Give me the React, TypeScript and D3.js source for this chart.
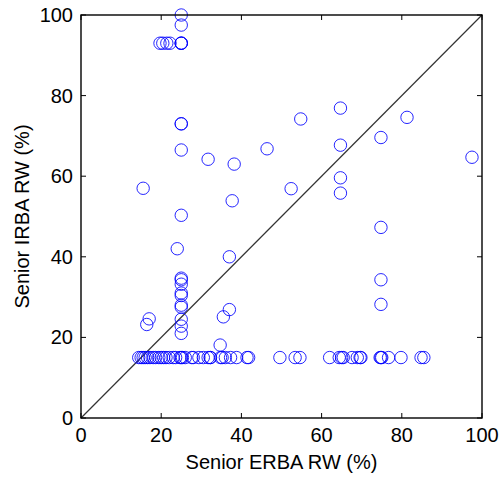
import React from "react";
import * as d3 from "d3";

// Scatter data: Senior ERBA RW (%) vs Senior IRBA RW (%)
const erba: number[] = [
  25, 25, 25, 25, 25, 19.7, 20.4, 21.4, 22.2,
  25, 25, 25, 25, 15.5, 24, 31.7, 38.2, 46.4, 54.8, 37.7, 52.4,
  64.7, 64.7, 64.7, 64.7, 74.8, 81.3, 97.5, 74.8, 74.8, 74.8, 37,
  25, 25, 25, 25, 25, 25, 25, 25, 25, 25,
  17, 16.4, 35.5, 37, 34.7,
  14.4, 15, 15.5, 16, 16.6, 17.2, 18, 18.6, 19.4, 20, 20.6, 21.2, 22, 23, 23.6,
  24.7, 25, 25.3, 26, 27.6, 28, 29.4, 30.5, 31.7, 32.2, 32.3, 34.8, 35.2, 36,
  37.3, 38.8, 41.4, 41.8, 49.6, 53.4, 54.6, 62, 64.4, 65, 65.4, 67.6, 68.9,
  69.6, 69.8, 74.6, 74.8, 75, 76.7, 79.8, 84.8, 85.5,
];
const irba: number[] = [
  100, 97.5, 93, 93, 93, 93, 93, 93, 93,
  73, 73, 66.5, 50.3, 57, 42, 64.2, 63, 66.8, 74.2, 53.9, 56.9,
  76.9, 67.7, 59.6, 55.8, 69.6, 74.6, 64.7, 47.3, 34.3, 28.2, 40,
  34.7, 34.3, 33.2, 31, 30.4, 28, 27.5, 24.5, 22.8, 21,
  24.6, 23.2, 25.1, 26.9, 18.1,
  15, 15, 15, 15, 15, 15, 15, 15, 15, 15, 15, 15, 15, 15, 15,
  15, 15, 15, 15, 15, 15, 15, 15, 15, 15, 15, 15, 15, 15,
  15, 15, 15, 15, 15, 15, 15, 15, 15, 15, 15, 15, 15,
  15, 15, 15, 15, 15, 15, 15, 15, 15,
];
const xTicks: number[] = [0, 20, 40, 60, 80, 100];
const yTicks: number[] = [0, 20, 40, 60, 80, 100];
const xLabel = "Senior ERBA RW (%)";
const yLabel = "Senior IRBA RW (%)";

export default function App() {
  const W = 502, H = 480;
  const left = 81, right = 482, top = 15, bottom = 418;
  const x = d3.scaleLinear().domain([0, 100]).range([left, right]);
  const y = d3.scaleLinear().domain([0, 100]).range([bottom, top]);
  const font = "Arial, 'Liberation Sans', sans-serif";
  const fs = 20;
  const tl = 5;
  const diag = d3.line<number>()(
    [0, 100].map((v) => [x(v), y(v)] as [number, number])
  ) as string;
  return (
    <svg
      width={W}
      height={H}
      style={{ position: "absolute", left: 0, top: 0, background: "#fff" }}
    >
      <rect x={0} y={0} width={W} height={H} fill="#fff" />
      <path d={diag} stroke="#333" strokeWidth={1.2} fill="none" />
      {erba.map((v, i) => (
        <circle
          key={i}
          cx={x(v)}
          cy={y(irba[i])}
          r={6.2}
          fill="none"
          stroke="#0000ff"
          strokeWidth={1}
          strokeOpacity={0.85}
        />
      ))}
      <rect
        x={left}
        y={top}
        width={right - left}
        height={bottom - top}
        fill="none"
        stroke="#000"
        strokeWidth={1.4}
      />
      {xTicks.map((t) => (
        <g key={"x" + t}>
          <line x1={x(t)} x2={x(t)} y1={bottom} y2={bottom - tl} stroke="#000" />
          <line x1={x(t)} x2={x(t)} y1={top} y2={top + tl} stroke="#000" />
          <text
            x={x(t)}
            y={442}
            textAnchor="middle"
            fontFamily={font}
            fontSize={fs}
            fill="#000"
          >
            {t}
          </text>
        </g>
      ))}
      {yTicks.map((t) => (
        <g key={"y" + t}>
          <line x1={left} x2={left + tl} y1={y(t)} y2={y(t)} stroke="#000" />
          <line x1={right} x2={right - tl} y1={y(t)} y2={y(t)} stroke="#000" />
          <text
            x={73}
            y={y(t) + 7}
            textAnchor="end"
            fontFamily={font}
            fontSize={fs}
            fill="#000"
          >
            {t}
          </text>
        </g>
      ))}
      <text
        x={(left + right) / 2}
        y={469}
        textAnchor="middle"
        fontFamily={font}
        fontSize={fs}
        fill="#000"
      >
        {xLabel}
      </text>
      <text
        transform={`translate(29,${(top + bottom) / 2}) rotate(-90)`}
        textAnchor="middle"
        fontFamily={font}
        fontSize={fs}
        fill="#000"
      >
        {yLabel}
      </text>
    </svg>
  );
}
